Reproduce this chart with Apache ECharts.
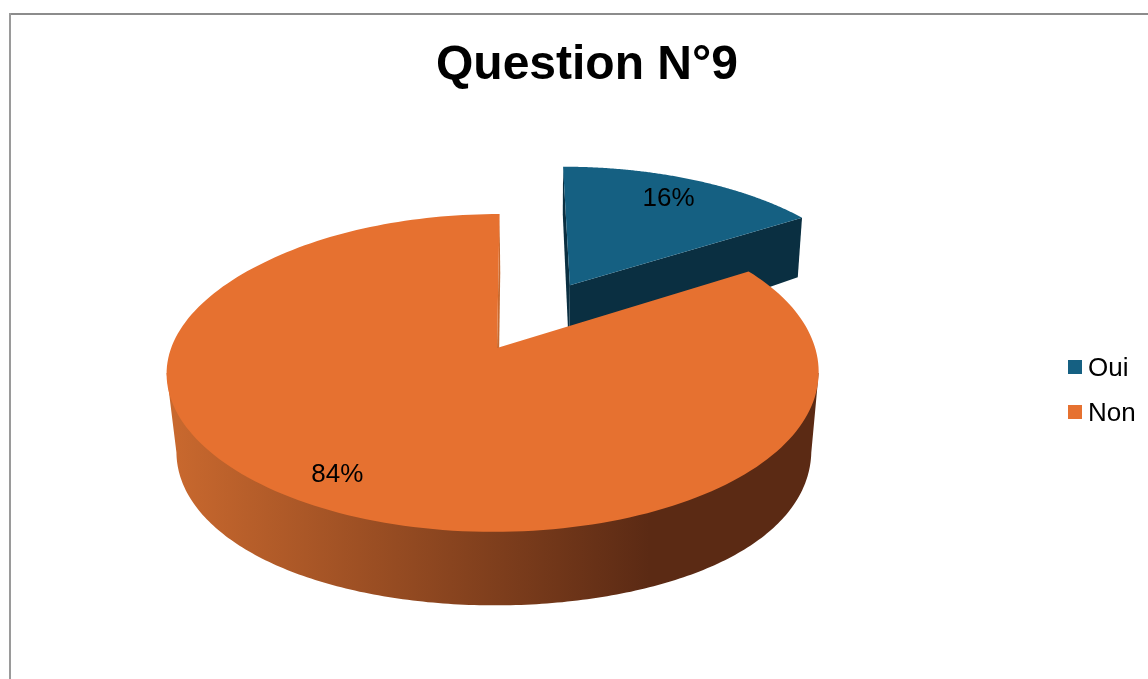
<!DOCTYPE html>
<html>
<head>
<meta charset="utf-8">
<style>html,body{margin:0;padding:0;background:#fff}#c{width:1148px;height:679px}</style>
<script src="https://cdn.jsdelivr.net/npm/echarts@6/dist/echarts.min.js"></script>
</head>
<body>
<div id="c"></div>
<script>
const categories = ['Oui', 'Non'];
const values = [16, 84];
const percentLabels = ['16%', '84%'];
const titleText = 'Question N°9';

const total = values.reduce((a, b) => a + b, 0);
const FONT = '"Liberation Sans", Arial, sans-serif';

// perspective view of the pie's plane (unit circle, y pointing to the viewer)
const view = { x0: 497, y0: 348, rx: 322, ry: 155, k: 0.157, skew: -3, bulge: -4 };
function top3d(x, y) {
  const w = 1 - view.k * y;
  const u = y / w;
  const b = Math.max(0, 1 - Math.pow((y - view.k) / 0.8, 2));
  return {
    X: view.x0 + (view.rx * x + view.skew * y) / w + view.bulge * x * x * b,
    Y: view.y0 + view.ry * u, u: u, y: y
  };
}
function bottom3d(x, y) {
  const p = top3d(x, y);
  const s = 0.975 - 0.009 * y;
  const depth = 78 + 11.26 * p.u - 12.7 * p.u * p.u;
  return [540 + s * (p.X - 540), p.Y + depth];
}
const topPt = (x, y) => { const p = top3d(x, y); return [p.X, p.Y]; };

const sliceStyle = [
  { top: '#156082', wall: '#0a2f41', edge: '#0a2f41', explode: 0.494, labelR: 0.80, labelShift: -0.5 },
  { top: '#e67130', wall: null, edge: '#c96a2e', explode: 0, labelR: 0.845, labelShift: 1.9 }
];
const wallGradient = {
  type: 'linear', global: true, x: 176, y: 0, x2: 650, y2: 0,
  colorStops: [{ offset: 0, color: '#c8682e' }, { offset: 1, color: '#5b2a14' }]
};

function makeSlice(index) {
  return function (params, api) {
    const before = values.slice(0, index).reduce((a, b) => a + b, 0);
    const a0 = before / total * 2 * Math.PI;
    const a1 = (before + api.value(0)) / total * 2 * Math.PI;
    const st = sliceStyle[index];
    const mid = (a0 + a1) / 2;
    const ox = st.explode * Math.sin(mid), oy = -st.explode * Math.cos(mid);
    const rim = (a) => [ox + Math.sin(a), oy - Math.cos(a)];
    const N = 200;
    const arc = [];
    for (let i = 0; i <= N; i++) arc.push(rim(a0 + (a1 - a0) * i / N));
    const children = [];

    const radial = (p, color) => children.push({
      type: 'polygon',
      shape: { points: [topPt(ox, oy), topPt(p[0], p[1]), bottom3d(p[0], p[1]), bottom3d(ox, oy)] },
      style: { fill: color }
    });
    if (index === 0) {
      radial(arc[0], st.edge);
      radial(arc[N], st.wall);
    } else {
      radial(arc[N], st.edge);
      // front wall: from the right silhouette point round to the left one
      const aR = Math.acos(-view.k), aL = 2 * Math.PI - aR;
      const pts = [];
      const start = rim(aR), end = rim(aL);
      pts.push(topPt(start[0], start[1]));
      for (let i = 0; i <= N; i++) {
        const p = rim(aR + (aL - aR) * i / N);
        pts.push(bottom3d(p[0], p[1]));
      }
      pts.push(topPt(end[0], end[1]));
      children.push({ type: 'polygon', shape: { points: pts }, style: { fill: wallGradient } });
    }
    children.push({
      type: 'polygon',
      shape: { points: [topPt(ox, oy)].concat(arc.map(p => topPt(p[0], p[1]))) },
      style: { fill: st.top }
    });
    const la = mid + st.labelShift * Math.PI / 180;
    const lp = topPt(ox + st.labelR * Math.sin(la), oy - st.labelR * Math.cos(la));
    children.push({
      type: 'text',
      style: {
        x: lp[0], y: lp[1], text: percentLabels[index], fill: '#000',
        font: '26px ' + FONT, align: 'center', verticalAlign: 'middle'
      }
    });
    return { type: 'group', children: children };
  };
}

const chart = echarts.init(document.getElementById('c'), null, { renderer: 'canvas' });
chart.setOption({
  animation: false,
  backgroundColor: '#fff',
  title: {
    text: titleText, left: 431, top: 37,
    textStyle: { fontFamily: FONT, fontSize: 48, fontWeight: 'bold', color: '#000' }
  },
  legend: {
    data: categories, orient: 'vertical', left: 1068, top: 352,
    padding: 0,
    icon: 'rect', itemWidth: 14, itemHeight: 14, itemGap: 15,
    selectedMode: false,
    formatter: (name) => '{a|' + name + '}',
    textStyle: {
      rich: { a: { fontFamily: FONT, fontSize: 26, color: '#000', padding: [4, 0, 0, 1], lineHeight: 30 } }
    }
  },
  graphic: [
    { type: 'rect', shape: { x: 9, y: 13, width: 1139, height: 2 }, style: { fill: '#8c8c8c' }, silent: true },
    { type: 'rect', shape: { x: 9, y: 13, width: 2, height: 666 }, style: { fill: '#9a9a9a' }, silent: true }
  ],
  series: categories.map((name, i) => ({
    type: 'custom',
    name: name,
    coordinateSystem: 'none',
    renderItem: makeSlice(i),
    itemStyle: { color: sliceStyle[i].top },
    data: [[values[i]]],
    z: i + 1
  }))
});
</script>
</body>
</html>
